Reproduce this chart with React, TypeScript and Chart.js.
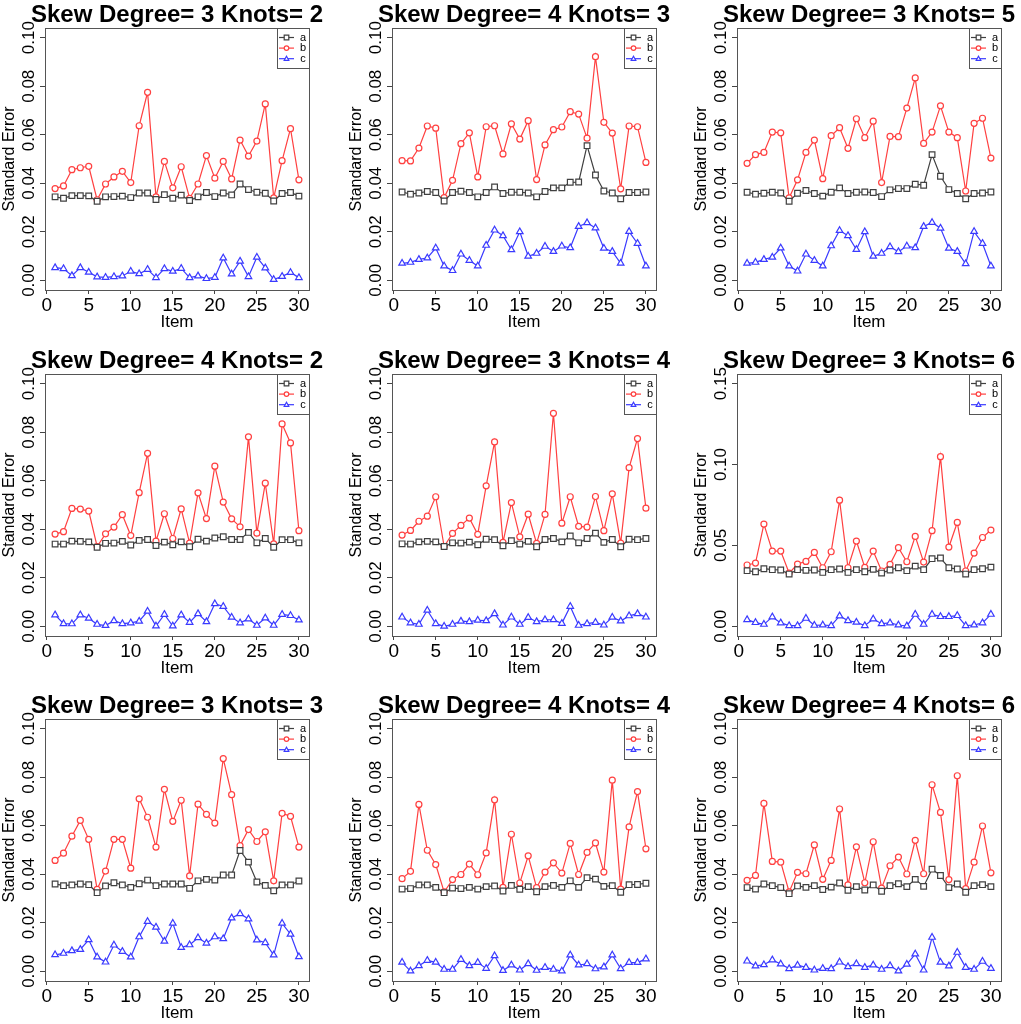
import React, { useEffect, useRef } from 'react';
import Chart from 'chart.js/auto';

const FONT = "'Liberation Sans', Arial, sans-serif";

const items = [1, 2, 3, 4, 5, 6, 7, 8, 9, 10, 11, 12, 13, 14, 15, 16, 17, 18, 19, 20, 21, 22, 23, 24, 25, 26, 27, 28, 29, 30];
const xTicks = [0, 5, 10, 15, 20, 25, 30];
const yTicksNarrow = [0, 0.02, 0.04, 0.06, 0.08, 0.1];
const yTicksWide = [0, 0.05, 0.1, 0.15];

// Skew Degree= 3 Knots= 2
const d3k2A = [0.0344, 0.0338, 0.0349, 0.0349, 0.0348, 0.0326, 0.0344, 0.0345, 0.0347, 0.0341, 0.0360, 0.0360, 0.0333, 0.0353, 0.0338, 0.0351, 0.0329, 0.0344, 0.0362, 0.0345, 0.0360, 0.0352, 0.0397, 0.0374, 0.0363, 0.0359, 0.0327, 0.0358, 0.0362, 0.0347];
const d3k2B = [0.0378, 0.0389, 0.0456, 0.0464, 0.0470, 0.0332, 0.0397, 0.0426, 0.0449, 0.0403, 0.0637, 0.0775, 0.0344, 0.0490, 0.0381, 0.0468, 0.0338, 0.0397, 0.0514, 0.0421, 0.0490, 0.0418, 0.0578, 0.0512, 0.0574, 0.0727, 0.0340, 0.0493, 0.0625, 0.0414];
const d3k2C = [0.0052, 0.0048, 0.0019, 0.0052, 0.0033, 0.0014, 0.0012, 0.0015, 0.0018, 0.0037, 0.0027, 0.0045, 0.0011, 0.0048, 0.0037, 0.0049, 0.0011, 0.0018, 0.0007, 0.0012, 0.0092, 0.0026, 0.0079, 0.0015, 0.0095, 0.0051, 0.0003, 0.0016, 0.0032, 0.0011];

// Skew Degree= 4 Knots= 3
const d4k3A = [0.0364, 0.0355, 0.0360, 0.0366, 0.0362, 0.0327, 0.0362, 0.0367, 0.0362, 0.0344, 0.0362, 0.0385, 0.0358, 0.0363, 0.0363, 0.0360, 0.0344, 0.0366, 0.0381, 0.0381, 0.0404, 0.0405, 0.0555, 0.0434, 0.0368, 0.0360, 0.0336, 0.0362, 0.0362, 0.0364];
const d4k3B = [0.0493, 0.0492, 0.0545, 0.0636, 0.0627, 0.0341, 0.0412, 0.0563, 0.0608, 0.0426, 0.0633, 0.0637, 0.0521, 0.0645, 0.0582, 0.0658, 0.0415, 0.0558, 0.0621, 0.0632, 0.0695, 0.0685, 0.0586, 0.0922, 0.0651, 0.0607, 0.0377, 0.0636, 0.0633, 0.0486];
const d4k3C = [0.0070, 0.0074, 0.0086, 0.0092, 0.0133, 0.0059, 0.0040, 0.0108, 0.0082, 0.0059, 0.0144, 0.0207, 0.0184, 0.0126, 0.0200, 0.0099, 0.0111, 0.0140, 0.0119, 0.0141, 0.0134, 0.0222, 0.0237, 0.0216, 0.0132, 0.0119, 0.0070, 0.0201, 0.0152, 0.0059];

// Skew Degree= 3 Knots= 5
const d3k5A = [0.0363, 0.0355, 0.0359, 0.0363, 0.0360, 0.0326, 0.0359, 0.0370, 0.0358, 0.0347, 0.0363, 0.0381, 0.0358, 0.0363, 0.0364, 0.0362, 0.0345, 0.0373, 0.0378, 0.0378, 0.0396, 0.0392, 0.0518, 0.0429, 0.0374, 0.0358, 0.0336, 0.0358, 0.0360, 0.0364];
const d3k5B = [0.0482, 0.0518, 0.0527, 0.0611, 0.0608, 0.0340, 0.0414, 0.0527, 0.0578, 0.0419, 0.0596, 0.0629, 0.0544, 0.0666, 0.0588, 0.0656, 0.0403, 0.0593, 0.0592, 0.0710, 0.0834, 0.0564, 0.0611, 0.0719, 0.0611, 0.0588, 0.0368, 0.0647, 0.0668, 0.0504];
const d3k5C = [0.0070, 0.0074, 0.0086, 0.0095, 0.0133, 0.0059, 0.0038, 0.0108, 0.0082, 0.0059, 0.0142, 0.0205, 0.0184, 0.0127, 0.0200, 0.0099, 0.0111, 0.0138, 0.0118, 0.0141, 0.0134, 0.0222, 0.0238, 0.0215, 0.0132, 0.0119, 0.0068, 0.0201, 0.0152, 0.0059];

// Skew Degree= 4 Knots= 2
const d4k2A = [0.0339, 0.0339, 0.0351, 0.0350, 0.0348, 0.0326, 0.0342, 0.0343, 0.0350, 0.0335, 0.0354, 0.0358, 0.0333, 0.0347, 0.0336, 0.0348, 0.0328, 0.0359, 0.0351, 0.0364, 0.0369, 0.0358, 0.0358, 0.0387, 0.0344, 0.0362, 0.0326, 0.0357, 0.0357, 0.0344];
const d4k2B = [0.0380, 0.0390, 0.0486, 0.0483, 0.0475, 0.0329, 0.0381, 0.0409, 0.0460, 0.0374, 0.0551, 0.0713, 0.0351, 0.0464, 0.0362, 0.0484, 0.0343, 0.0550, 0.0444, 0.0660, 0.0512, 0.0443, 0.0410, 0.0781, 0.0384, 0.0590, 0.0340, 0.0834, 0.0756, 0.0394];
const d4k2C = [0.0047, 0.0011, 0.0010, 0.0047, 0.0033, 0.0008, 0.0003, 0.0023, 0.0011, 0.0014, 0.0021, 0.0062, 0.0001, 0.0049, 0.0001, 0.0047, 0.0016, 0.0052, 0.0019, 0.0093, 0.0082, 0.0037, 0.0014, 0.0030, 0.0004, 0.0034, 0.0004, 0.0049, 0.0044, 0.0026];

// Skew Degree= 3 Knots= 4
const d3k4A = [0.0340, 0.0339, 0.0348, 0.0350, 0.0348, 0.0329, 0.0344, 0.0343, 0.0347, 0.0336, 0.0359, 0.0357, 0.0332, 0.0353, 0.0339, 0.0350, 0.0328, 0.0358, 0.0362, 0.0348, 0.0372, 0.0344, 0.0362, 0.0384, 0.0346, 0.0358, 0.0328, 0.0359, 0.0357, 0.0362];
const d3k4B = [0.0376, 0.0395, 0.0433, 0.0454, 0.0534, 0.0329, 0.0383, 0.0416, 0.0446, 0.0379, 0.0579, 0.0760, 0.0346, 0.0510, 0.0369, 0.0462, 0.0342, 0.0461, 0.0878, 0.0425, 0.0534, 0.0412, 0.0409, 0.0535, 0.0394, 0.0546, 0.0343, 0.0654, 0.0774, 0.0487];
const d3k4C = [0.0038, 0.0014, 0.0008, 0.0066, 0.0011, 0.0000, 0.0008, 0.0021, 0.0019, 0.0025, 0.0023, 0.0052, 0.0005, 0.0038, 0.0008, 0.0036, 0.0019, 0.0027, 0.0027, 0.0012, 0.0082, 0.0004, 0.0011, 0.0016, 0.0005, 0.0037, 0.0022, 0.0043, 0.0052, 0.0038];

// Skew Degree= 3 Knots= 6
const d3k6A = [0.0344, 0.0337, 0.0356, 0.0350, 0.0348, 0.0323, 0.0350, 0.0346, 0.0348, 0.0333, 0.0350, 0.0354, 0.0333, 0.0350, 0.0337, 0.0352, 0.0329, 0.0348, 0.0362, 0.0344, 0.0372, 0.0350, 0.0418, 0.0422, 0.0362, 0.0354, 0.0323, 0.0350, 0.0356, 0.0366];
const d3k6B = [0.0379, 0.0391, 0.0632, 0.0465, 0.0465, 0.0329, 0.0385, 0.0401, 0.0457, 0.0362, 0.0461, 0.0780, 0.0362, 0.0527, 0.0364, 0.0465, 0.0342, 0.0383, 0.0486, 0.0399, 0.0556, 0.0397, 0.0591, 0.1049, 0.0490, 0.0642, 0.0342, 0.0453, 0.0549, 0.0595];
const d3k6C = [0.0041, 0.0023, 0.0012, 0.0058, 0.0021, 0.0004, 0.0004, 0.0049, 0.0006, 0.0008, 0.0004, 0.0064, 0.0035, 0.0025, 0.0004, 0.0045, 0.0016, 0.0021, 0.0008, 0.0002, 0.0074, 0.0012, 0.0074, 0.0060, 0.0060, 0.0066, 0.0004, 0.0008, 0.0021, 0.0074];

// Skew Degree= 3 Knots= 3
const d3k3A = [0.0360, 0.0353, 0.0356, 0.0360, 0.0357, 0.0324, 0.0352, 0.0365, 0.0356, 0.0346, 0.0361, 0.0376, 0.0353, 0.0360, 0.0360, 0.0360, 0.0342, 0.0373, 0.0379, 0.0376, 0.0397, 0.0397, 0.0498, 0.0450, 0.0368, 0.0354, 0.0332, 0.0356, 0.0356, 0.0372];
const d3k3B = [0.0457, 0.0487, 0.0557, 0.0622, 0.0544, 0.0338, 0.0413, 0.0544, 0.0544, 0.0425, 0.0711, 0.0635, 0.0512, 0.0750, 0.0618, 0.0705, 0.0393, 0.0689, 0.0647, 0.0611, 0.0877, 0.0728, 0.0518, 0.0584, 0.0535, 0.0575, 0.0373, 0.0651, 0.0639, 0.0512];
const d3k3C = [0.0068, 0.0074, 0.0085, 0.0090, 0.0130, 0.0059, 0.0038, 0.0108, 0.0082, 0.0059, 0.0142, 0.0205, 0.0182, 0.0124, 0.0198, 0.0098, 0.0109, 0.0138, 0.0116, 0.0142, 0.0134, 0.0220, 0.0237, 0.0216, 0.0129, 0.0118, 0.0067, 0.0198, 0.0153, 0.0060];

// Skew Degree= 4 Knots= 4
const d4k4A = [0.0339, 0.0341, 0.0356, 0.0356, 0.0346, 0.0324, 0.0343, 0.0341, 0.0346, 0.0339, 0.0349, 0.0352, 0.0331, 0.0354, 0.0338, 0.0349, 0.0328, 0.0349, 0.0354, 0.0346, 0.0373, 0.0346, 0.0386, 0.0380, 0.0350, 0.0353, 0.0326, 0.0357, 0.0358, 0.0363];
const d4k4B = [0.0382, 0.0412, 0.0688, 0.0499, 0.0440, 0.0327, 0.0378, 0.0399, 0.0442, 0.0398, 0.0488, 0.0707, 0.0346, 0.0565, 0.0364, 0.0476, 0.0345, 0.0409, 0.0447, 0.0405, 0.0527, 0.0399, 0.0490, 0.0529, 0.0409, 0.0788, 0.0339, 0.0595, 0.0741, 0.0505];
const d4k4C = [0.0037, 0.0001, 0.0023, 0.0045, 0.0037, 0.0008, 0.0008, 0.0049, 0.0023, 0.0036, 0.0012, 0.0064, 0.0003, 0.0026, 0.0005, 0.0031, 0.0004, 0.0016, 0.0008, 0.0001, 0.0067, 0.0026, 0.0031, 0.0010, 0.0018, 0.0067, 0.0011, 0.0036, 0.0036, 0.0051];

// Skew Degree= 4 Knots= 6
const d4k6A = [0.0345, 0.0339, 0.0360, 0.0353, 0.0345, 0.0320, 0.0352, 0.0346, 0.0353, 0.0337, 0.0347, 0.0364, 0.0334, 0.0349, 0.0335, 0.0356, 0.0330, 0.0353, 0.0361, 0.0349, 0.0379, 0.0350, 0.0421, 0.0395, 0.0345, 0.0360, 0.0326, 0.0353, 0.0357, 0.0349];
const d4k6B = [0.0375, 0.0395, 0.0692, 0.0453, 0.0450, 0.0327, 0.0408, 0.0402, 0.0521, 0.0379, 0.0457, 0.0669, 0.0356, 0.0513, 0.0365, 0.0534, 0.0343, 0.0435, 0.0471, 0.0401, 0.0540, 0.0402, 0.0769, 0.0655, 0.0378, 0.0806, 0.0341, 0.0450, 0.0599, 0.0406];
const d4k6C = [0.0042, 0.0022, 0.0027, 0.0047, 0.0030, 0.0011, 0.0025, 0.0016, 0.0005, 0.0012, 0.0011, 0.0038, 0.0019, 0.0031, 0.0016, 0.0026, 0.0008, 0.0023, 0.0001, 0.0029, 0.0071, 0.0005, 0.0140, 0.0037, 0.0022, 0.0078, 0.0016, 0.0008, 0.0041, 0.0012];

const colA = '#404040';
const colB = '#ff4040';
const colC = '#3a3aff';

const CANVAS_W = 347;
const CANVAS_H = 346;
const colLeft = [-3, 344, 689];
const rowTop = [0, 346, 691];

type Marker = 'rect' | 'circle' | 'triangle';

// small R-style marker for the legend
function drawMarker(ctx: CanvasRenderingContext2D, kind: Marker, x: number, y: number, r: number) {
    ctx.beginPath();
    if (kind === 'rect') {
        ctx.rect(x - r, y - r, 2 * r, 2 * r);
    } else if (kind === 'circle') {
        ctx.arc(x, y, r, 0, Math.PI * 2);
    } else {
        ctx.moveTo(x, y - r * 1.1);
        ctx.lineTo(x + r, y + r * 0.7);
        ctx.lineTo(x - r, y + r * 0.7);
        ctx.closePath();
    }
    ctx.fillStyle = '#fff';
    ctx.fill();
    ctx.stroke();
}

// box, title, rotated y labels and the legend, R base-graphics style
function makeDecor(title: string, yTicks: number[]) {
    return {
        id: 'rDecor',
        afterDraw(chart: any) {
            const { ctx, chartArea } = chart;
            const { left, right, top, bottom } = chartArea;
            ctx.save();

            ctx.strokeStyle = '#555';
            ctx.lineWidth = 1;
            ctx.strokeRect(left + 0.5, top + 0.5, right - left, bottom - top);

            ctx.fillStyle = '#000';
            ctx.font = `bold 24px ${FONT}`;
            ctx.textAlign = 'center';
            ctx.textBaseline = 'alphabetic';
            ctx.fillText(title, (left + right) / 2, 22);

            const yScale = chart.scales.y;
            ctx.font = `17px ${FONT}`;
            ctx.textBaseline = 'middle';
            yTicks.forEach((v) => {
                const py = yScale.getPixelForValue(v);
                ctx.save();
                ctx.translate(left - 16, py);
                ctx.rotate(-Math.PI / 2);
                ctx.fillText(v.toFixed(2), 0, 0);
                ctx.restore();
            });

            // legend
            const lw = 32;
            const lh = 40;
            const lx = right - lw;
            const ly = top;
            ctx.strokeStyle = '#555';
            ctx.strokeRect(lx + 0.5, ly + 0.5, lw, lh);
            const rows: { label: string; color: string; marker: Marker }[] = [
                { label: 'a', color: colA, marker: 'rect' },
                { label: 'b', color: colB, marker: 'circle' },
                { label: 'c', color: colC, marker: 'triangle' },
            ];
            rows.forEach((row, i) => {
                const y = ly + 9.5 + i * 10.6;
                ctx.strokeStyle = row.color;
                ctx.lineWidth = 1.2;
                ctx.beginPath();
                ctx.moveTo(lx + 2, y);
                ctx.lineTo(lx + 17, y);
                ctx.stroke();
                drawMarker(ctx, row.marker, lx + 9.5, y, 2.3);
                ctx.fillStyle = '#000';
                ctx.font = `11px ${FONT}`;
                ctx.textAlign = 'center';
                ctx.textBaseline = 'middle';
                ctx.fillText(row.label, lx + 26, y);
            });
            ctx.restore();
        },
    };
}

interface PanelProps {
    title: string;
    a: number[];
    b: number[];
    c: number[];
    yTicks: number[];
    left: number;
    top: number;
}

const Panel: React.FC<PanelProps> = ({ title, a, b, c, yTicks, left, top }) => {
    const chartRef = useRef<HTMLCanvasElement | null>(null);

    useEffect(() => {
        const ctx = chartRef.current?.getContext('2d');
        if (!ctx) {
            return;
        }
        const span = yTicks[yTicks.length - 1] - yTicks[0];
        const toPoints = (vals: number[]) => items.map((x, i) => ({ x, y: vals[i] }));
        const series = (label: string, vals: number[], color: string, style: Marker, radius: number) => ({
            label,
            data: toPoints(vals),
            borderColor: color,
            borderWidth: 1.2,
            pointStyle: style,
            pointRadius: radius,
            pointBorderWidth: 1.2,
            pointBorderColor: color,
            pointBackgroundColor: '#ffffff',
            tension: 0,
            fill: false,
        });

        const myChart = new Chart(ctx, {
            type: 'line',
            data: {
                datasets: [
                    series('a', a, colA, 'rect', 4.0),
                    series('b', b, colB, 'circle', 3.0),
                    series('c', c, colC, 'triangle', 3.8),
                ],
            },
            options: {
                animation: false,
                responsive: false,
                layout: { padding: { top: 28, right: CANVAS_W - 312, bottom: 0, left: 0 } },
                plugins: {
                    legend: { display: false },
                    title: { display: false },
                    tooltip: { enabled: false },
                },
                scales: {
                    x: {
                        type: 'linear',
                        min: -0.2,
                        max: 31.2,
                        afterBuildTicks: (scale: any) => {
                            scale.ticks = xTicks.map((value) => ({ value }));
                        },
                        afterFit: (scale: any) => {
                            scale.height = CANVAS_H - 290;
                        },
                        grid: { drawOnChartArea: false, drawTicks: true, tickLength: 4, color: '#444' },
                        border: { display: true, color: '#555' },
                        ticks: {
                            color: '#000',
                            font: { family: FONT, size: 19 },
                            padding: 0,
                            maxRotation: 0,
                            autoSkip: false,
                        },
                        title: {
                            display: true,
                            text: 'Item',
                            color: '#000',
                            font: { family: FONT, size: 17 },
                            padding: { top: 0, bottom: 13 },
                        },
                    },
                    y: {
                        type: 'linear',
                        min: yTicks[0] - span * 0.04,
                        max: yTicks[yTicks.length - 1] + span * 0.04,
                        afterBuildTicks: (scale: any) => {
                            scale.ticks = yTicks.map((value) => ({ value }));
                        },
                        afterFit: (scale: any) => {
                            scale.width = 48;
                        },
                        grid: { drawOnChartArea: false, drawTicks: true, tickLength: 5, color: '#444' },
                        border: { display: true, color: '#555' },
                        ticks: { display: false },
                        title: {
                            display: true,
                            text: 'Standard Error',
                            color: '#000',
                            font: { family: FONT, size: 16 },
                            padding: { top: 3, bottom: 0 },
                        },
                    },
                },
            },
            plugins: [makeDecor(title, yTicks)],
        });

        return () => {
            myChart.destroy();
        };
    }, [title, a, b, c, yTicks]);

    return (
        <canvas
            ref={chartRef}
            width={CANVAS_W}
            height={CANVAS_H}
            style={{ position: 'absolute', left, top, width: CANVAS_W, height: CANVAS_H }}
        />
    );
};

const panels = [
    { title: 'Skew Degree= 3 Knots= 2', a: d3k2A, b: d3k2B, c: d3k2C, yTicks: yTicksNarrow },
    { title: 'Skew Degree= 4 Knots= 3', a: d4k3A, b: d4k3B, c: d4k3C, yTicks: yTicksNarrow },
    { title: 'Skew Degree= 3 Knots= 5', a: d3k5A, b: d3k5B, c: d3k5C, yTicks: yTicksNarrow },
    { title: 'Skew Degree= 4 Knots= 2', a: d4k2A, b: d4k2B, c: d4k2C, yTicks: yTicksNarrow },
    { title: 'Skew Degree= 3 Knots= 4', a: d3k4A, b: d3k4B, c: d3k4C, yTicks: yTicksNarrow },
    { title: 'Skew Degree= 3 Knots= 6', a: d3k6A, b: d3k6B, c: d3k6C, yTicks: yTicksWide },
    { title: 'Skew Degree= 3 Knots= 3', a: d3k3A, b: d3k3B, c: d3k3C, yTicks: yTicksNarrow },
    { title: 'Skew Degree= 4 Knots= 4', a: d4k4A, b: d4k4B, c: d4k4C, yTicks: yTicksNarrow },
    { title: 'Skew Degree= 4 Knots= 6', a: d4k6A, b: d4k6B, c: d4k6C, yTicks: yTicksNarrow },
];

const App: React.FC = () => {
    useEffect(() => {
        document.body.style.margin = '0';
        document.body.style.background = '#fff';
    }, []);

    return (
        <div style={{ position: 'relative', width: 1021, height: 1024, overflow: 'hidden', background: '#fff' }}>
            {panels.map((p, i) => (
                <Panel
                    key={p.title}
                    title={p.title}
                    a={p.a}
                    b={p.b}
                    c={p.c}
                    yTicks={p.yTicks}
                    left={colLeft[i % 3]}
                    top={rowTop[Math.floor(i / 3)]}
                />
            ))}
        </div>
    );
};

export default App;
